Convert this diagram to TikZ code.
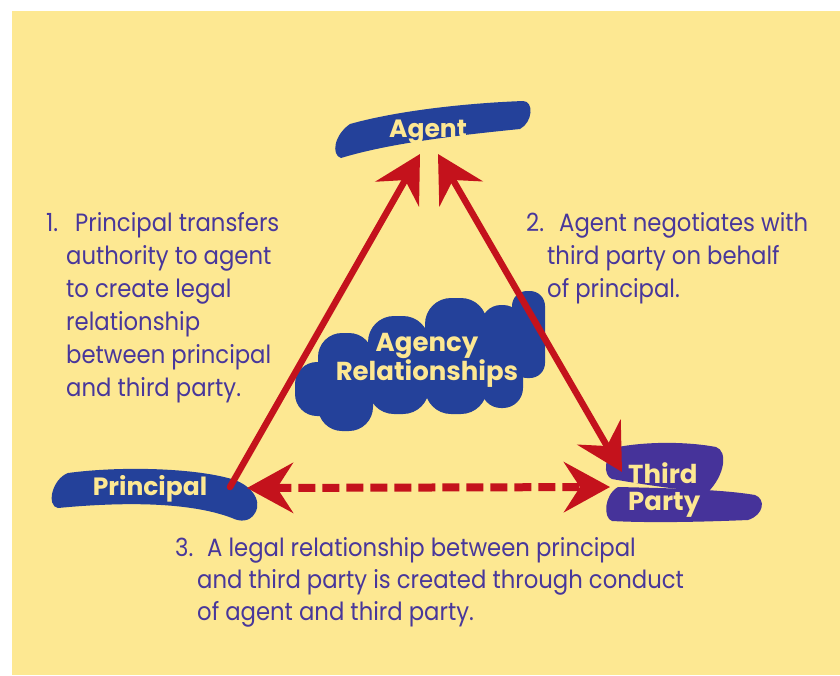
\documentclass[tikz,border=0pt]{standalone}
\usepackage{fontspec}
\setmainfont{Poppins}
\newfontfamily\bodyfont{Poppins}[FakeStretch=0.91]
\usetikzlibrary{arrows.meta}
\definecolor{bgyellow}{HTML}{FDE892}
\definecolor{blobblue}{HTML}{24419A}
\definecolor{blobpurple}{HTML}{46339A}
\definecolor{txtpurple}{HTML}{48379B}
\definecolor{arrred}{HTML}{C4121C}
\tikzset{
  blob/.style={fill=blobblue, draw=none},
  blobp/.style={fill=blobpurple, draw=none},
  lab/.style={text=bgyellow, font=\bfseries\fontsize{25}{25}\selectfont, inner sep=0pt},
  body/.style={text=txtpurple, font=\bodyfont\fontsize{25}{33}\selectfont, align=left, inner sep=0pt, anchor=north west},
  redarrow/.style={draw=arrred, line width=6.5pt},
  bighead/.style={-{Stealth[length=46pt,width=50pt,inset=16pt,fill=arrred]}},
  bighead2/.style={{Stealth[length=46pt,width=50pt,inset=16pt,fill=arrred]}-{Stealth[length=46pt,width=50pt,inset=16pt,fill=arrred]}}
}
\begin{document}
\begin{tikzpicture}[x=1pt,y=-1pt]
\useasboundingbox (0,0) rectangle (840,675);
\fill[white] (0,0) rectangle (840,675);
\fill[bgyellow] (12,11) rectangle (840,675);

% Agent stroke
\path[blob] (341,158) .. controls (331,155) and (334,135) .. (350,124)
  .. controls (400,110) and (470,103) .. (523,101)
  .. controls (534,101) and (533,122) .. (520,129)
  .. controls (460,135) and (390,143) .. (341,158) -- cycle;

% Principal stroke
\path[blob] (58,508) .. controls (46,506) and (52,479) .. (68,473)
  .. controls (120,466) and (190,468) .. (228,478)
  .. controls (250,483) and (263,500) .. (255,513)
  .. controls (250,522) and (240,522) .. (232,518)
  .. controls (185,500) and (110,503) .. (58,508) -- cycle;

% Third party strokes
\path[blobp] (612,479) .. controls (603,476) and (603,455) .. (618,447)
  .. controls (650,441) and (690,442) .. (716,447)
  .. controls (728,451) and (725,475) .. (708,492)
  .. controls (680,490) and (640,484) .. (612,479) -- cycle;
\path[blobp] (612,521) .. controls (603,518) and (604,495) .. (618,487)
  .. controls (660,488) and (720,489) .. (755,495)
  .. controls (766,499) and (764,515) .. (748,520)
  .. controls (700,522) and (650,523) .. (612,521) -- cycle;

% Agency relationships cloud
\begin{scope}[blob]
  \fill[rounded corners=22pt] (295,362) rectangle (348,416);
  \fill[rounded corners=24pt] (318,333) rectangle (373,431);
  \fill[rounded corners=26pt] (368,316) rectangle (429,414);
  \fill[rounded corners=26pt] (425,298) rectangle (487,414);
  \fill[rounded corners=20pt] (481,305) rectangle (523,408);
  \fill[rounded corners=15pt] (512,291) rectangle (545,378);
  \fill (340,360) rectangle (520,395);
\end{scope}

% labels on shapes
\node[lab, anchor=base] (agent) at (428,137) {Agent};
\node[lab, anchor=base] (principal) at (150,495) {Principal};
\node[lab, align=center, anchor=base, font=\bfseries\fontsize{26}{25}\selectfont] (agency) at (427,380) {Agency\\Relationships};
\node[lab, align=left, anchor=base west, font=\bfseries\fontsize{26}{27}\selectfont] (third) at (628,510) {Third\\Party};

% arrow end points
\coordinate (p1) at (230,487);
\coordinate (a1) at (420,154);
\coordinate (a2) at (438,154);
\coordinate (t2) at (622,472);
\coordinate (p3) at (247,488);
\coordinate (t3) at (610,487);

\draw[redarrow, line cap=round, bighead] (p1) -- (a1);
\draw[redarrow, bighead2] (a2) -- (t2);
\draw[draw=arrred, line width=8pt, dash pattern=on 17pt off 7pt, bighead2] (p3) -- (t3);

% body texts
\node[body] (txt1) at (46,212) {\makebox[29pt][l]{1.}Principal transfers\\
\hspace*{20pt}authority to agent\\
\hspace*{20pt}to create legal\\
\hspace*{20pt}relationship\\
\hspace*{20pt}between principal\\
\hspace*{20pt}and third party.};
\node[body] (txt2) at (526,212) {\makebox[33pt][l]{2.}Agent negotiates with\\
\hspace*{21pt}third party on behalf\\
\hspace*{21pt}of principal.};
\node[body, font=\bodyfont\fontsize{25}{32}\selectfont] (txt3) at (175,537) {\makebox[32pt][l]{3.}A legal relationship between principal\\
\hspace*{22pt}and third party is created through conduct\\
\hspace*{22pt}of agent and third party.};
\end{tikzpicture}
\end{document}
